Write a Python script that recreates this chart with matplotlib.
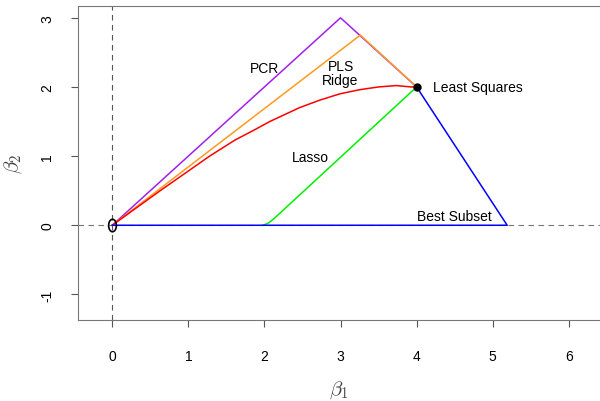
import numpy as np
import matplotlib
matplotlib.use("Agg")
import matplotlib.pyplot as plt
from matplotlib.path import Path
from matplotlib.transforms import Affine2D

plt.rcParams['font.family'] = ['Liberation Sans', 'DejaVu Sans']
plt.rcParams['mathtext.fontset'] = 'cm'
plt.rcParams['axes.unicode_minus'] = False

# coefficient paths
pcr_x = [0, 3, 4]
pcr_y = [0, 3, 2]
pls_x = [0, 3.26, 4]
pls_y = [0, 2.75, 2]
ridge_x = [0, 0.63, 1.28, 1.61, 1.87, 2.07, 2.46, 2.73, 2.99, 3.25, 3.5, 3.73, 3.93, 4]
ridge_y = [0, 0.50, 1.0, 1.23, 1.38, 1.50, 1.70, 1.81, 1.90, 1.96, 2.0, 2.02, 2.0, 2]
lasso_x = [1.98, 2.05, 2.13, 4]
lasso_y = [0, 0.03, 0.1, 2]
best_x = [0, 5.19, 4]
best_y = [0, 0, 2]
ls_point = (4, 2)

labels = ["PCR", "PLS", "Ridge", "Lasso", "Least Squares", "Best Subset"]
label_x = [2.0, 3.0, 3.0, 2.6, 4.21, 4.5]
label_y = [2.28, 2.3, 2.1, 0.98, 2.0, 0.14]
label_ha = ["center", "center", "center", "center", "left", "center"]

fig = plt.figure(figsize=(6, 4.02), dpi=100)
ax = fig.add_axes([0.13, 0.2015, 0.87, 0.781])
ax.set_xlim(-0.45, 6.41)
ax.set_ylim(-1.37, 3.17)

ax.axvline(0, color="#555555", ls=(0, (5, 4)), lw=0.8)
ax.axhline(0, color="#777777", ls=(0, (5, 4)), lw=0.8)

ax.plot(pcr_x, pcr_y, color="#A020F0", lw=1.1)
ax.plot(pls_x, pls_y, color="#FF9A1F", lw=1.1)
ax.plot(ridge_x, ridge_y, color="#FF0000", lw=1.1)
ax.plot(lasso_x, lasso_y, color="#00EE00", lw=1.1)
ax.plot(best_x, best_y, color="#0000FF", lw=1.1)
ax.plot([ls_point[0]], [ls_point[1]], "o", color="black", ms=5)

oval = Path.unit_circle().transformed(Affine2D().scale(0.62, 1.0))
ax.plot([0], [0], marker=oval, mfc="none", mec="black", ms=9, mew=1.2, ls="none")

for t, x, y, ha in zip(labels, label_x, label_y, label_ha):
    ax.text(x, y, t, ha=ha, va="center", fontsize=10)

ax.spines["right"].set_visible(False)
for s in ["left", "bottom", "top"]:
    ax.spines[s].set_color("#777777")

ax.set_xticks(range(0, 7))
ax.set_yticks(range(-1, 4))
ax.tick_params(colors="#555555", labelcolor="black", length=5, labelsize=10)
ax.tick_params(axis="x", pad=16)
ax.tick_params(axis="y", pad=12)
for lab in ax.get_yticklabels():
    lab.set_rotation(90)
    lab.set_va("center")

ax.set_xlabel(r"$\beta_1$", fontsize=15, color="#444444", labelpad=11)
ax.set_ylabel(r"$\beta_2$", fontsize=15, color="#444444", labelpad=12)

fig.savefig("out.png", dpi=100)
